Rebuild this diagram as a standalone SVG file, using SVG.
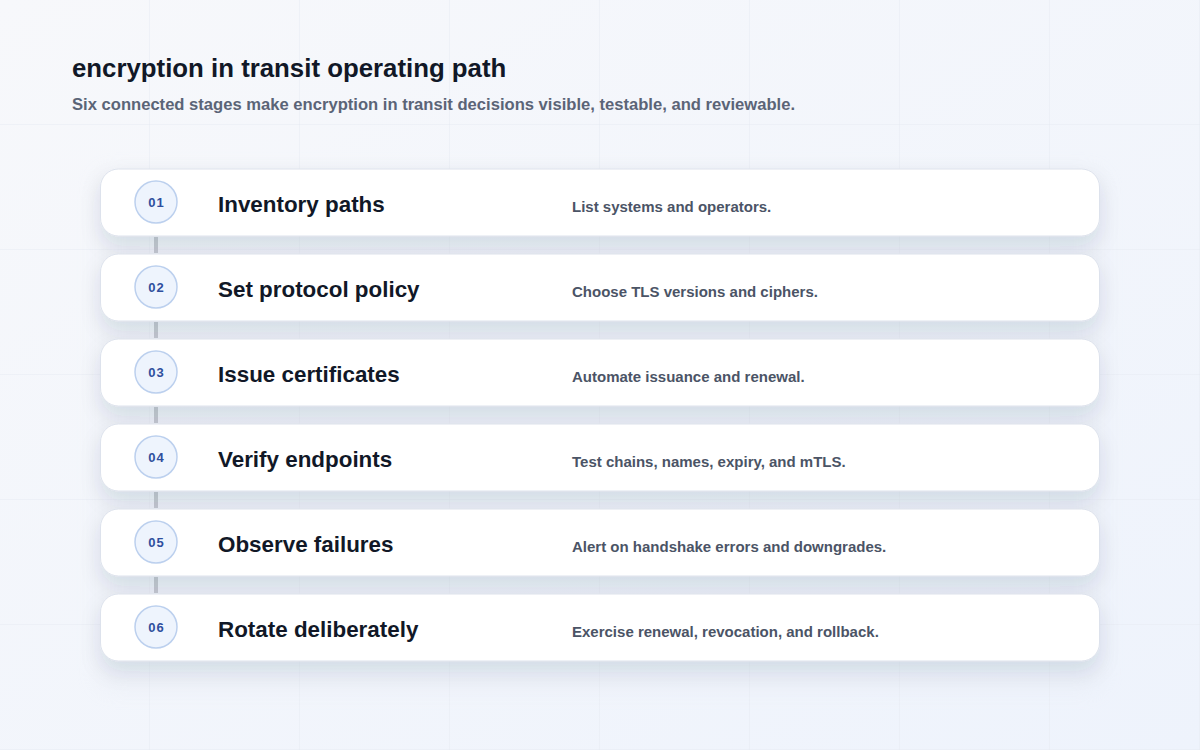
<svg xmlns="http://www.w3.org/2000/svg" width="1200" height="750" viewBox="0 0 1200 750">
  <defs>
    <linearGradient id="bg" x1="0" y1="0" x2="1" y2="1">
      <stop offset="0" stop-color="#f7f8fb"/>
      <stop offset="1" stop-color="#eef3fc"/>
    </linearGradient>
    <pattern id="grid" width="150" height="125" patternUnits="userSpaceOnUse">
      <path d="M150 0V125M0 125H150" fill="none" stroke="#e6eaf2" stroke-width="1"/>
    </pattern>
    <filter id="shadow" x="-10%" y="-40%" width="120%" height="200%">
      <feDropShadow dx="0" dy="10" stdDeviation="10" flood-color="#1e2a50" flood-opacity="0.10"/>
    </filter>
    <filter id="panelblur" x="-10%" y="-10%" width="120%" height="120%">
      <feGaussianBlur stdDeviation="12"/>
    </filter>
  </defs>
  <style>
    .title{font-family:"Liberation Sans",Arial,sans-serif;font-weight:700;font-size:25.8px;fill:#111827}
    .sub{font-family:"Liberation Sans",Arial,sans-serif;font-weight:700;font-size:16.6px;fill:#5b6477}
    .card{fill:#ffffff;stroke:#dde2ec;stroke-width:1;filter:url(#shadow)}
    .badge{fill:#eef4fd;stroke:#bcd0ee;stroke-width:1.5}
    .num{font-family:"Liberation Sans",Arial,sans-serif;font-weight:700;font-size:13px;fill:#2f4f9e;letter-spacing:1px}
    .name{font-family:"Liberation Sans",Arial,sans-serif;font-weight:700;font-size:22.4px;fill:#111827}
    .desc{font-family:"Liberation Sans",Arial,sans-serif;font-weight:700;font-size:15px;fill:#4b5466}
    .conn{stroke:#c3c7cf;stroke-width:4;fill:none}
  </style>
  <rect width="1200" height="750" fill="url(#bg)"/>
  <rect width="1200" height="750" fill="url(#grid)"/>
  <rect x="100" y="175" width="1000" height="512" fill="#dfe4ee" opacity="0.35" filter="url(#panelblur)"/>

  <text class="title" x="72" y="77">encryption in transit operating path</text>
  <text class="sub" x="72" y="110">Six connected stages make encryption in transit decisions visible, testable, and reviewable.</text>

  <g id="connectors">
    <line class="conn" x1="156" y1="237" x2="156" y2="253"/>
    <line class="conn" x1="156" y1="322" x2="156" y2="338"/>
    <line class="conn" x1="156" y1="407" x2="156" y2="423"/>
    <line class="conn" x1="156" y1="492" x2="156" y2="508"/>
    <line class="conn" x1="156" y1="577" x2="156" y2="593"/>
  </g>

  <g id="stage-01">
    <rect class="card" x="100.5" y="169" width="999" height="67" rx="18"/>
    <circle class="badge" cx="156" cy="202" r="21"/>
    <text class="num" x="156.5" y="207" text-anchor="middle">01</text>
    <text class="name" x="218" y="212">Inventory paths</text>
    <text class="desc" x="572" y="212">List systems and operators.</text>
  </g>
  <g id="stage-02">
    <rect class="card" x="100.5" y="254" width="999" height="67" rx="18"/>
    <circle class="badge" cx="156" cy="287" r="21"/>
    <text class="num" x="156.5" y="292" text-anchor="middle">02</text>
    <text class="name" x="218" y="297">Set protocol policy</text>
    <text class="desc" x="572" y="297">Choose TLS versions and ciphers.</text>
  </g>
  <g id="stage-03">
    <rect class="card" x="100.5" y="339" width="999" height="67" rx="18"/>
    <circle class="badge" cx="156" cy="372" r="21"/>
    <text class="num" x="156.5" y="377" text-anchor="middle">03</text>
    <text class="name" x="218" y="382">Issue certificates</text>
    <text class="desc" x="572" y="382">Automate issuance and renewal.</text>
  </g>
  <g id="stage-04">
    <rect class="card" x="100.5" y="424" width="999" height="67" rx="18"/>
    <circle class="badge" cx="156" cy="457" r="21"/>
    <text class="num" x="156.5" y="462" text-anchor="middle">04</text>
    <text class="name" x="218" y="467">Verify endpoints</text>
    <text class="desc" x="572" y="467">Test chains, names, expiry, and mTLS.</text>
  </g>
  <g id="stage-05">
    <rect class="card" x="100.5" y="509" width="999" height="67" rx="18"/>
    <circle class="badge" cx="156" cy="542" r="21"/>
    <text class="num" x="156.5" y="547" text-anchor="middle">05</text>
    <text class="name" x="218" y="552">Observe failures</text>
    <text class="desc" x="572" y="552">Alert on handshake errors and downgrades.</text>
  </g>
  <g id="stage-06">
    <rect class="card" x="100.5" y="594" width="999" height="67" rx="18"/>
    <circle class="badge" cx="156" cy="627" r="21"/>
    <text class="num" x="156.5" y="632" text-anchor="middle">06</text>
    <text class="name" x="218" y="637">Rotate deliberately</text>
    <text class="desc" x="572" y="637">Exercise renewal, revocation, and rollback.</text>
  </g>
</svg>
